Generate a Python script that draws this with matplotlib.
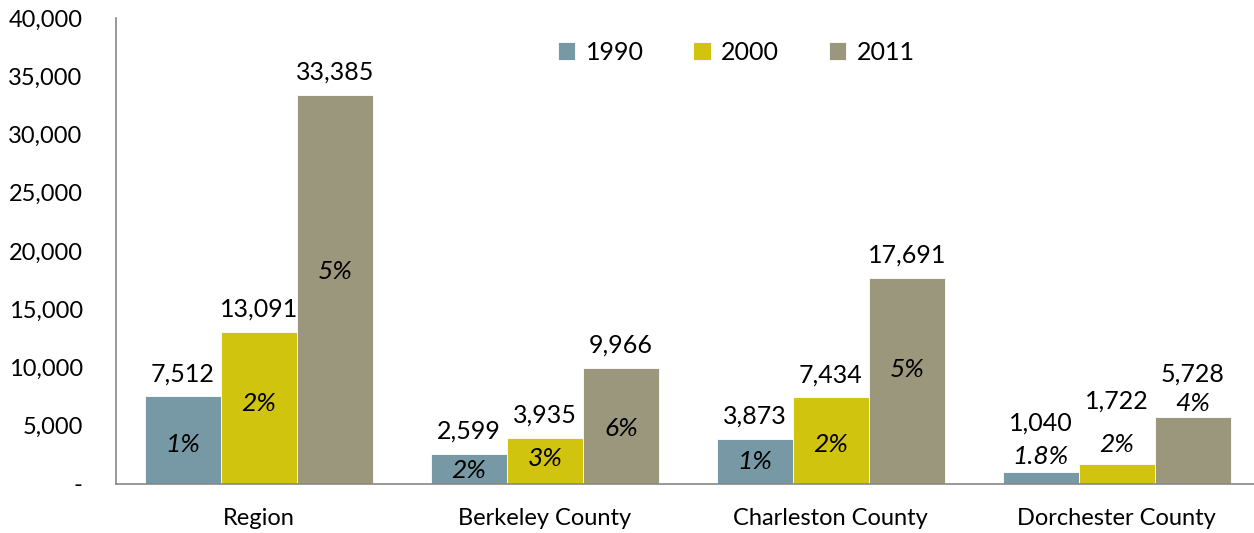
import numpy as np
import matplotlib.pyplot as plt
from matplotlib.ticker import FuncFormatter

plt.rcParams['font.family'] = ['Lato', 'DejaVu Sans']

# data
categories = ['Region', 'Berkeley County', 'Charleston County', 'Dorchester County']
years = ['1990', '2000', '2011']
vals_1990 = [7512, 2599, 3873, 1040]
vals_2000 = [13091, 3935, 7434, 1722]
vals_2011 = [33385, 9966, 17691, 5728]
pct_1990 = ['1%', '2%', '1%', '1.8%']
pct_2000 = ['2%', '3%', '2%', '2%']
pct_2011 = ['5%', '6%', '5%', '4%']

# where the italic percent labels sit (data units)
pct_y = [[3430, 1120, 1970, 2400],
         [6870, 2150, 3430, 3350],
         [18280, 4800, 9870, 6950]]
# extra lift (points) for value labels sitting above percent labels
val_lift = [[0, 0, 0, 19],
            [0, 0, 0, 29],
            [0, 0, 0, 15]]

colors = ['#7799a5', '#d1c40f', '#9b977d']

fig, ax = plt.subplots(figsize=(12.54, 5.33), dpi=100)
fig.subplots_adjust(left=0.0925, right=1.0, top=0.966, bottom=0.092)

x = np.arange(len(categories))
w = 0.266
series = [vals_1990, vals_2000, vals_2011]
pcts = [pct_1990, pct_2000, pct_2011]
for i, (vals, p) in enumerate(zip(series, pcts)):
    xs = x + (i - 1) * w
    ax.bar(xs, vals, w, color=colors[i], label=years[i], edgecolor='white', linewidth=0.6)
    for xx, v, lab, py, lift in zip(xs, vals, p, pct_y[i], val_lift[i]):
        ax.annotate(f'{v:,}', (xx, v), xytext=(0, 8 + lift), textcoords='offset points',
                    ha='center', va='bottom', fontsize=18, color='black')
        ax.text(xx, py, lab, ha='center', va='center', fontsize=19,
                style='italic', color='black')

ax.set_ylim(0, 40000)
ax.set_xlim(-0.5, 3.48)
ax.set_yticks(range(0, 40001, 5000))
ax.yaxis.set_major_formatter(FuncFormatter(lambda v, pos: '-' if v == 0 else f'{int(v):,}'))
ax.set_xticks(x)
ax.set_xticklabels(categories, fontsize=17)
ax.tick_params(axis='y', labelsize=17, length=0, pad=24)
ax.tick_params(axis='x', length=0, pad=17)

for s in ['top', 'right']:
    ax.spines[s].set_visible(False)
ax.spines['left'].set_color('#888888')
ax.spines['bottom'].set_color('#888888')
ax.spines['left'].set_linewidth(1.2)
ax.spines['bottom'].set_linewidth(1.2)

ax.legend(loc='upper center', bbox_to_anchor=(0.545, 1.0), ncol=3, frameon=False,
          fontsize=18, handlelength=0.7, handleheight=0.7, handletextpad=0.4,
          columnspacing=2.0)

plt.savefig('out.png', dpi=100)
